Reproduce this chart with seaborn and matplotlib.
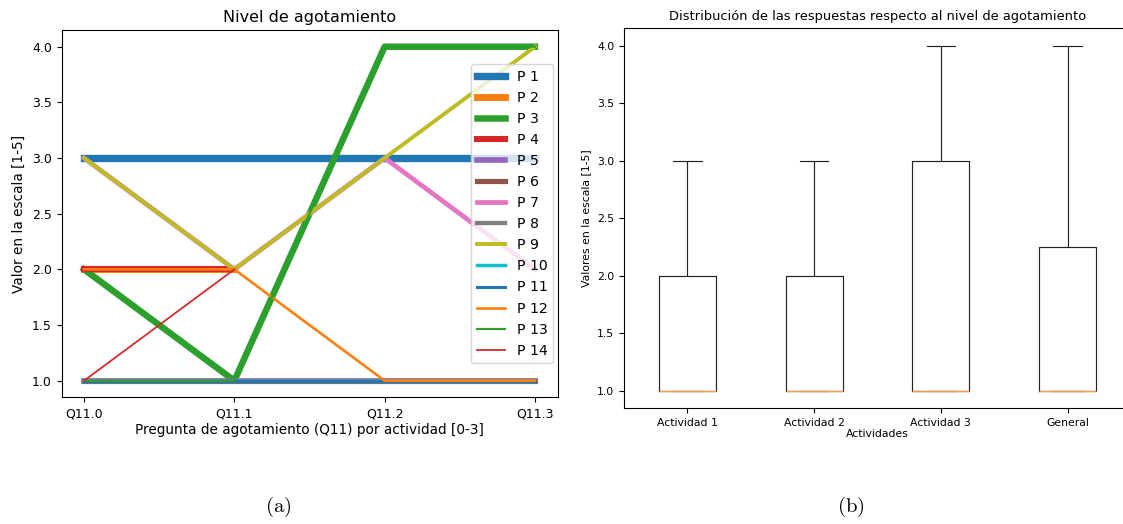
import numpy as np
import pandas as pd
import matplotlib
matplotlib.use("Agg")
import matplotlib.pyplot as plt
import seaborn as sns

nan = np.nan
# ---------------- data ----------------
preguntas = ["Q11.0", "Q11.1", "Q11.2", "Q11.3"]
participantes = [f"P {i}" for i in range(1, 15)]
p1 = [3, 3, 3, 3]
p2 = [2, 2, nan, nan]
p3 = [2, 1, 4, 4]
p4 = [2, 2, nan, nan]
p5 = [1, 1, 1, 1]
p6 = [1, 1, 1, 1]
p7 = [3, 2, 3, 2]
p8 = [1, 1, 1, 1]
p9 = [3, 2, 3, 4]
p10 = [1, 1, 1, 1]
p11 = [1, 1, 1, 1]
p12 = [2, 2, 1, 1]
p13 = [1, 1, 4, 4]
p14 = [1, 2, nan, nan]
series = [p1, p2, p3, p4, p5, p6, p7, p8, p9, p10, p11, p12, p13, p14]

actividades = ["Actividad 1", "Actividad 2", "Actividad 3", "General"]
act1 = [1, 1, 1, 1, 1, 1, 1, 1, 2, 2, 2, 3, 3, 3]
act2 = [1, 1, 1, 1, 1, 1, 1, 1, 2, 2, 2, 3, 3, 3]
act3 = [1, 1, 1, 1, 1, 1, 1, 1, 3, 3, 3, 4, 4, 4]
general = [1, 1, 1, 1, 1, 1, 1, 1, 1, 2, 2, 2, 3, 3, 4, 4]

# ---------------- figure ----------------
plt.rcParams["mathtext.fontset"] = "cm"
fig = plt.figure(figsize=(11.23, 5.24), dpi=100)
W, H = 1123, 524

def pos(x0, x1, y0, y1):
    return [x0 / W, 1 - y1 / H, (x1 - x0) / W, (y1 - y0) / H]

ax1 = fig.add_axes(pos(61.5, 557.5, 30, 397.4))
ax2 = fig.add_axes(pos(624, 1131, 28.4, 408.3))

palette = plt.rcParams["axes.prop_cycle"].by_key()["color"]
for i, (name, vals) in enumerate(zip(participantes, series)):
    lw = 5.3 - 0.31 * i
    sns.lineplot(x=preguntas, y=vals, ax=ax1, color=palette[i % 10],
                 linewidth=lw, label=name, sort=False)

ax1.set_xlim(-0.15, 3.15)
ax1.set_ylim(0.85, 4.15)
ax1.set_yticks([1.0, 1.5, 2.0, 2.5, 3.0, 3.5, 4.0])
ax1.tick_params(labelsize=9)
ax1.set_title("Nivel de agotamiento", fontsize=11.5)
ax1.set_xlabel("Pregunta de agotamiento (Q11) por actividad [0-3]", fontsize=9.8, labelpad=2)
ax1.set_ylabel("Valor en la escala [1-5]", fontsize=9.8)
ax1.legend(loc="center right", fontsize=10.2, borderaxespad=0.3)

# boxplot
df = pd.DataFrame({
    "Actividades": (["Actividad 1"] * len(act1) + ["Actividad 2"] * len(act2)
                    + ["Actividad 3"] * len(act3) + ["General"] * len(general)),
    "valor": act1 + act2 + act3 + general,
})
sns.boxplot(data=df, x="Actividades", y="valor", order=actividades, ax=ax2,
            width=0.45, fill=False, color="#222222", linewidth=0.85,
            medianprops={"color": "#f5a050", "linewidth": 1.0})
ax2.set_xlim(-0.5, 3.5)
ax2.set_ylim(0.85, 4.15)
ax2.set_yticks([1.0, 1.5, 2.0, 2.5, 3.0, 3.5, 4.0])
ax2.tick_params(labelsize=7.8)
ax2.set_title("Distribución de las respuestas respecto al nivel de agotamiento", fontsize=9.4)
ax2.set_xlabel("Actividades", fontsize=7.8, labelpad=1)
ax2.set_ylabel("Valores en la escala [1-5]", fontsize=7.8)

fig.text(278 / W, 1 - 507 / H, r"$\mathrm{(a)}$", fontsize=15, ha="center", va="center")
fig.text(851 / W, 1 - 507 / H, r"$\mathrm{(b)}$", fontsize=15, ha="center", va="center")

fig.savefig("out.png", dpi=100)
